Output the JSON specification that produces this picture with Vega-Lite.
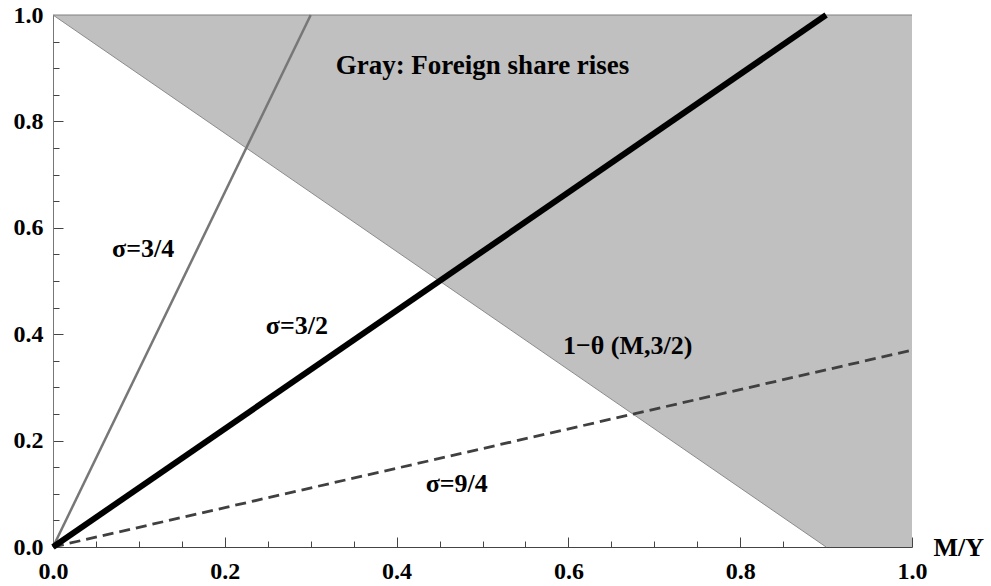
{
  "$schema": "https://vega.github.io/schema/vega-lite/v6.json",
  "width": 859,
  "height": 532,
  "autosize": {"type": "none"},
  "padding": {"left": 53, "top": 15, "right": 79, "bottom": 39},
  "background": "white",
  "config": {"view": {"stroke": null}},
  "datasets": {
    "region": [{"x": 0, "lo": 1, "hi": 1}, {"x": 0.9, "lo": 0, "hi": 1}, {"x": 1, "lo": 0, "hi": 1}],
    "boundary": [{"x": 0, "y": 1}, {"x": 0.9, "y": 0}],
    "topedge": [{"x": 0, "y": 1}, {"x": 1, "y": 1}],
    "lines": [
      {"s": "3/4", "x": 0, "y": 0}, {"s": "3/4", "x": 0.3, "y": 1},
      {"s": "3/2", "x": 0, "y": 0}, {"s": "3/2", "x": 0.9, "y": 1},
      {"s": "9/4", "x": 0, "y": 0}, {"s": "9/4", "x": 1, "y": 0.37}
    ],
    "labels": [
      {"x": 0.5, "y": 0.904, "t": "Gray: Foreign share rises", "big": true},
      {"x": 0.105, "y": 0.56, "t": "σ=3/4", "big": false},
      {"x": 0.284, "y": 0.416, "t": "σ=3/2", "big": false},
      {"x": 0.669, "y": 0.378, "t": "1−θ (M,3/2)", "big": false},
      {"x": 0.47, "y": 0.118, "t": "σ=9/4", "big": false}
    ]
  },
  "resolve": {"axis": {"x": "independent", "y": "independent"}},
  "layer": [
    {
      "data": {"name": "region"},
      "mark": {"type": "area", "color": "#c0c0c0", "opacity": 1},
      "encoding": {
        "x": {"field": "x", "type": "quantitative", "scale": {"domain": [0, 1], "nice": false, "zero": false},
          "axis": {"orient": "bottom", "values": [0, 0.2, 0.4, 0.6, 0.8, 1.0], "format": ".1f", "grid": false,
            "labelFont": "Liberation Serif", "labelFontWeight": "bold", "labelFontSize": 24, "labelColor": "black",
            "labelPadding": 22, "labelFlush": false, "labelOverlap": false, "labelBound": false,
            "tickSize": -10, "tickColor": "#444", "tickWidth": 1, "domainColor": "#444", "domainWidth": 1,
            "title": "M/Y", "titleFont": "Liberation Serif", "titleFontWeight": "bold", "titleFontSize": 26, "titleColor": "black",
            "titleX": 880, "titleY": 8, "titleAlign": "left", "titleBaseline": "alphabetic", "titleAngle": 0}},
        "y": {"field": "lo", "type": "quantitative", "scale": {"domain": [0, 1], "nice": false, "zero": false},
          "axis": {"orient": "left", "values": [0, 0.2, 0.4, 0.6, 0.8, 1.0], "format": ".1f", "grid": false,
            "labelFont": "Liberation Serif", "labelFontWeight": "bold", "labelFontSize": 24, "labelColor": "black",
            "labelPadding": 20, "labelFlush": false, "labelOverlap": false, "labelBound": false,
            "tickSize": -10, "tickColor": "#444", "tickWidth": 1, "domainColor": "#777", "domainWidth": 1,
            "title": null}},
        "y2": {"field": "hi"}
      }
    },
    {
      "data": {"name": "boundary"},
      "mark": {"type": "line", "color": "#8c8c8c", "strokeWidth": 1},
      "encoding": {
        "x": {"field": "x", "type": "quantitative",
          "axis": {"orient": "bottom", "values": [0.05, 0.1, 0.15, 0.25, 0.3, 0.35, 0.45, 0.5, 0.55, 0.65, 0.7, 0.75, 0.85, 0.9, 0.95],
            "labels": false, "domain": false, "grid": false, "tickSize": -6, "tickColor": "#444", "tickWidth": 1, "title": null}},
        "y": {"field": "y", "type": "quantitative",
          "axis": {"orient": "left", "values": [0.05, 0.1, 0.15, 0.25, 0.3, 0.35, 0.45, 0.5, 0.55, 0.65, 0.7, 0.75, 0.85, 0.9, 0.95],
            "labels": false, "domain": false, "grid": false, "tickSize": -6, "tickColor": "#444", "tickWidth": 1, "title": null}}
      }
    },
    {
      "data": {"name": "topedge"},
      "mark": {"type": "line", "color": "#808080", "strokeWidth": 1.2},
      "encoding": {
        "x": {"field": "x", "type": "quantitative", "axis": null},
        "y": {"field": "y", "type": "quantitative", "axis": null}
      }
    },
    {
      "data": {"name": "lines"},
      "transform": [{"filter": "datum.s == '3/4'"}],
      "mark": {"type": "line", "color": "#777777", "strokeWidth": 2.5},
      "encoding": {
        "x": {"field": "x", "type": "quantitative", "axis": null},
        "y": {"field": "y", "type": "quantitative", "axis": null}
      }
    },
    {
      "data": {"name": "lines"},
      "transform": [{"filter": "datum.s == '9/4'"}],
      "mark": {"type": "line", "color": "#404040", "strokeWidth": 2.8, "strokeDash": [11, 6]},
      "encoding": {
        "x": {"field": "x", "type": "quantitative", "axis": null},
        "y": {"field": "y", "type": "quantitative", "axis": null}
      }
    },
    {
      "data": {"name": "lines"},
      "transform": [{"filter": "datum.s == '3/2'"}],
      "mark": {"type": "line", "color": "black", "strokeWidth": 6},
      "encoding": {
        "x": {"field": "x", "type": "quantitative", "axis": null},
        "y": {"field": "y", "type": "quantitative", "axis": null}
      }
    },
    {
      "data": {"name": "labels"},
      "transform": [{"filter": "datum.big"}],
      "mark": {"type": "text", "font": "Liberation Serif", "fontWeight": "bold", "fontSize": 27, "color": "black", "align": "center", "baseline": "middle"},
      "encoding": {
        "x": {"field": "x", "type": "quantitative", "axis": null},
        "y": {"field": "y", "type": "quantitative", "axis": null},
        "text": {"field": "t", "type": "nominal"}
      }
    },
    {
      "data": {"name": "labels"},
      "transform": [{"filter": "!datum.big"}],
      "mark": {"type": "text", "font": "Liberation Serif", "fontWeight": "bold", "fontSize": 26, "color": "black", "align": "center", "baseline": "middle"},
      "encoding": {
        "x": {"field": "x", "type": "quantitative", "axis": null},
        "y": {"field": "y", "type": "quantitative", "axis": null},
        "text": {"field": "t", "type": "nominal"}
      }
    }
  ]
}
